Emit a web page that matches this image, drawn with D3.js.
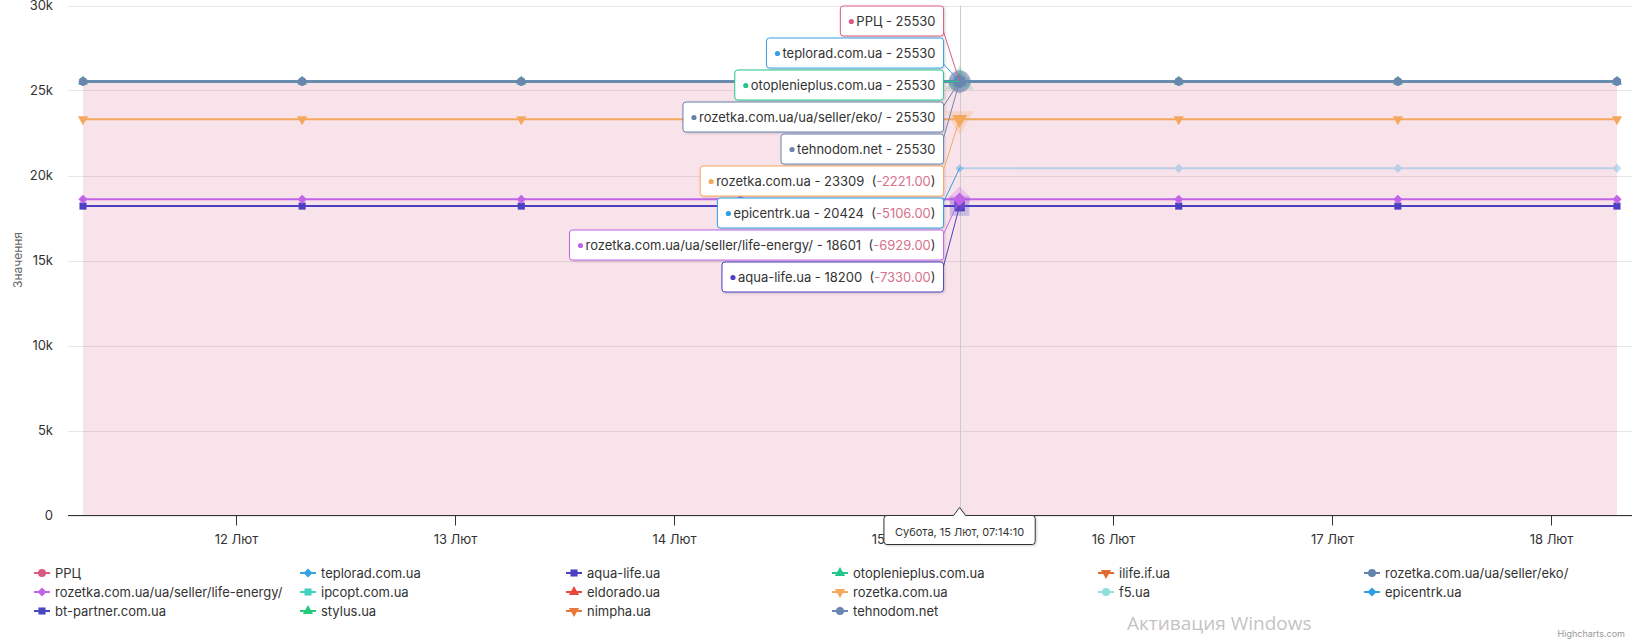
<!DOCTYPE html>
<html>
<head>
<meta charset="utf-8">
<script src="https://cdn.jsdelivr.net/npm/d3@7"></script>
<style>
    body { margin: 0; background: #fff; font-family: Inter, "Noto Sans", sans-serif; }
    svg { display: block; }
</style>
</head>
<body>
<svg id="chart" width="1634" height="642"></svg>
<script>
//Data
const dates = ["2025-02-11T07:14:10", "2025-02-12T07:14:10", "2025-02-13T07:14:10", "2025-02-14T07:14:10",
               "2025-02-15T07:14:10", "2025-02-16T07:14:10", "2025-02-17T07:14:10", "2025-02-18T07:14:10"];
const seriesNames = ["РРЦ", "teplorad.com.ua", "aqua-life.ua", "otoplenieplus.com.ua", "ilife.if.ua",
                     "rozetka.com.ua/ua/seller/eko/", "rozetka.com.ua/ua/seller/life-energy/", "ipcopt.com.ua",
                     "eldorado.ua", "rozetka.com.ua", "f5.ua", "epicentrk.ua", "bt-partner.com.ua",
                     "stylus.ua", "nimpha.ua", "tehnodom.net"];
const rrc           = [25530, 25530, 25530, 25530, 25530, 25530, 25530, 25530];
const teplorad      = [25530, 25530, 25530, 25530, 25530, 25530, 25530, 25530];
const aquaLife      = [18200, 18200, 18200, 18200, 18200, 18200, 18200, 18200];
const otoplenieplus = [25530, 25530, 25530, 25530, 25530, 25530, 25530, 25530];
const ilife         = [null, null, null, null, null, null, null, null];
const rozetkaEko    = [25530, 25530, 25530, 25530, 25530, 25530, 25530, 25530];
const lifeEnergy    = [18601, 18601, 18601, 18601, 18601, 18601, 18601, 18601];
const ipcopt        = [null, null, null, null, null, null, null, null];
const eldorado      = [null, null, null, null, null, null, null, null];
const rozetka       = [23309, 23309, 23309, 23309, 23309, 23309, 23309, 23309];
const f5            = [null, null, null, null, null, null, null, null];
const epicentrk     = [null, null, null, null, 20424, 20424, 20424, 20424];
const btPartner     = [null, null, null, null, null, null, null, null];
const stylus        = [null, null, null, null, null, null, null, null];
const nimpha        = [null, null, null, null, null, null, null, null];
const tehnodom      = [25530, 25530, 25530, 25530, 25530, 25530, 25530, 25530];

const yTicks = [0, 5000, 10000, 15000, 20000, 25000, 30000];
const yTickLabels = ["0", "5k", "10k", "15k", "20k", "25k", "30k"];
const xTickDates = ["2025-02-12", "2025-02-13", "2025-02-14", "2025-02-15", "2025-02-16", "2025-02-17", "2025-02-18"];
const xTickLabels = ["12 Лют", "13 Лют", "14 Лют", "15 Лют", "16 Лют", "17 Лют", "18 Лют"];
const hoverIndex = 4;
const hoverLabel = "Субота, 15 Лют, 07:14:10";

//Styles
const colors = ["#db5a80", "#3aa0e0", "#4b3fc2", "#24c78a", "#e06a30", "#6382ad", "#c264e8", "#3fd0c0",
                "#e84a3a", "#f4a85e", "#8fe0dc", "#2e9fe5", "#4a48c0", "#27c97a", "#e8783a", "#6a85b0"];
const symbols = ["circle", "diamond", "square", "triangle", "triangle-down"];

const seriesValues = [rrc, teplorad, aquaLife, otoplenieplus, ilife, rozetkaEko, lifeEnergy, ipcopt,
                      eldorado, rozetka, f5, epicentrk, btPartner, stylus, nimpha, tehnodom];
const series = seriesNames.map((name, i) => ({
    name: name,
    color: colors[i],
    symbol: symbols[i % 5],
    values: seriesValues[i].map((v, j) => ({ date: new Date(dates[j]), value: v }))
}));

//Measuring (px)
const plotLeft = 68, plotRight = 1632, plotTop = 5.5, plotBottom = 515.5;

const xScale = d3.scaleTime()
    .domain([new Date(dates[0]), new Date(dates[dates.length - 1])])
    .range([83, 1617]);
const yScale = d3.scaleLinear().domain([0, 30000]).range([plotBottom, plotTop]);

const svg = d3.select("#chart");

//Shadow for tooltips
const defs = svg.append("defs");
const shadow = defs.append("filter").attr("id", "shadow").attr("x", "-20%").attr("y", "-40%").attr("width", "140%").attr("height", "180%");
shadow.append("feDropShadow").attr("dx", 1).attr("dy", 1).attr("stdDeviation", 1.2).attr("flood-color", "#000").attr("flood-opacity", 0.18);

function symbolPath(type, size) {
    if (type === "circle") return d3.symbol().type(d3.symbolCircle).size(size)();
    if (type === "square") return d3.symbol().type(d3.symbolSquare).size(size)();
    if (type === "diamond") return d3.symbol().type(d3.symbolSquare).size(size * 0.85)();
    return d3.symbol().type(d3.symbolTriangle).size(size * 0.9)();
}
function symbolRotate(type) {
    if (type === "diamond") return 45;
    if (type === "triangle-down") return 180;
    return 0;
}

//Grid
svg.append("g").selectAll("line").data(yTicks).enter().append("line")
    .attr("x1", plotLeft).attr("x2", plotRight)
    .attr("y1", d => Math.round(yScale(d)) + 0.5).attr("y2", d => Math.round(yScale(d)) + 0.5)
    .attr("stroke", "#e6e6e6").attr("stroke-width", 1);

//Y labels
svg.append("g").selectAll("text").data(yTicks).enter().append("text")
    .attr("x", 53).attr("y", d => yScale(d) + 4.5)
    .attr("text-anchor", "end").attr("font-size", 13).attr("fill", "#333")
    .text((d, i) => yTickLabels[i]);

svg.append("text")
    .attr("transform", "translate(22,260) rotate(-90)")
    .attr("text-anchor", "middle").attr("font-size", 12).attr("fill", "#666")
    .text("Значення");

//РРЦ area
const area = d3.area()
    .defined(d => d.value !== null)
    .x(d => xScale(d.date)).y0(yScale(0)).y1(d => yScale(d.value));
svg.append("path").datum(series[0].values)
    .attr("d", area).attr("fill", series[0].color).attr("fill-opacity", 0.17);

//Lines
const line = d3.line()
    .defined(d => d.value !== null)
    .x(d => xScale(d.date)).y(d => yScale(d.value));
const faded = ["epicentrk.ua"];

series.forEach(s => {
    const op = faded.includes(s.name) ? 0.3 : 1;
    const g = svg.append("g").attr("opacity", op);
    g.append("path").datum(s.values)
        .attr("d", line).attr("fill", "none")
        .attr("stroke", s.color).attr("stroke-width", 2);
    g.selectAll("path.marker").data(s.values.filter((d, j) => d.value !== null && j !== hoverIndex))
        .enter().append("path").attr("class", "marker")
        .attr("d", symbolPath(s.symbol, 50))
        .attr("transform", d => `translate(${xScale(d.date)},${yScale(d.value)}) rotate(${symbolRotate(s.symbol)})`)
        .attr("fill", s.color);
});

//Crosshair
const hoverDate = new Date(dates[hoverIndex]);
const hx = xScale(hoverDate);
svg.append("line")
    .attr("x1", Math.round(hx) + 0.5).attr("x2", Math.round(hx) + 0.5)
    .attr("y1", plotTop).attr("y2", plotBottom)
    .attr("stroke", "#cccccc").attr("stroke-width", 1);

//Hover markers
series.forEach(s => {
    const d = s.values[hoverIndex];
    if (d.value === null) return;
    const big = !faded.includes(s.name);
    const g = svg.append("g").attr("transform", `translate(${hx},${yScale(d.value)})`);
    if (big) {
        g.append("path").attr("d", symbolPath(s.symbol, 380))
            .attr("transform", `rotate(${symbolRotate(s.symbol)})`)
            .attr("fill", s.color).attr("fill-opacity", 0.25);
    }
    g.append("path").attr("d", symbolPath(s.symbol, big ? 110 : 40))
        .attr("transform", `rotate(${symbolRotate(s.symbol)})`)
        .attr("fill", s.color).attr("opacity", big ? 1 : 0.4);
});

//X axis
svg.append("line")
    .attr("x1", plotLeft).attr("x2", plotRight)
    .attr("y1", plotBottom).attr("y2", plotBottom)
    .attr("stroke", "#333").attr("stroke-width", 1);
const xg = svg.append("g").selectAll("g").data(xTickDates).enter().append("g")
    .attr("transform", d => `translate(${Math.round(xScale(new Date(d + "T00:00:00"))) + 0.5},${plotBottom})`);
xg.append("line").attr("y1", 0).attr("y2", 10).attr("stroke", "#333");
xg.append("text").attr("y", 28).attr("text-anchor", "middle")
    .attr("font-size", 13).attr("fill", "#333")
    .text((d, i) => xTickLabels[i]);

//Split tooltip
const shown = series.filter(s => s.values[hoverIndex].value !== null)
    .sort((a, b) => b.values[hoverIndex].value - a.values[hoverIndex].value);
const ref = series[0].values[hoverIndex].value;
const boxRight = hx - 16;
const tip = svg.append("g");
shown.forEach((s, i) => {
    const v = s.values[hoverIndex].value;
    const top = 6 + i * 32;
    const bottom = top + 30;
    const py = yScale(v);
    const g = tip.append("g");
    const rect = g.append("rect");
    const conn = g.append("line");
    const txt = g.append("text").attr("y", top + 19.5).attr("font-size", 13).attr("fill", "#333")
        .attr("text-anchor", "end").attr("x", boxRight - 8);
    txt.append("tspan").text(`${s.name} - ${v}`);
    if (v !== ref) {
        txt.append("tspan").attr("xml:space", "preserve").text("  (");
        txt.append("tspan").attr("fill", "#d9708a").text((v - ref).toFixed(2));
        txt.append("tspan").text(")");
    }
    const w = txt.node().getComputedTextLength() + 24;
    rect.attr("x", boxRight - w).attr("y", top).attr("width", w).attr("height", 30)
        .attr("rx", 3).attr("fill", "#fff").attr("stroke", s.color).attr("stroke-width", 1)
        .attr("filter", "url(#shadow)");
    g.append("circle").attr("cx", boxRight - w + 11).attr("cy", top + 15.5).attr("r", 2.6).attr("fill", s.color);
    const cy = Math.max(top + 4, Math.min(bottom - 4, py));
    conn.attr("x1", boxRight).attr("y1", cy).attr("x2", hx).attr("y2", py)
        .attr("stroke", s.color).attr("stroke-width", 1);
});

//Date tooltip
const dg = svg.append("g").attr("transform", `translate(${hx},${plotBottom})`);
const dtext = dg.append("text").attr("y", 20).attr("text-anchor", "middle")
    .attr("font-size", 11).attr("fill", "#333").text(hoverLabel);
const dw = dtext.node().getComputedTextLength() + 22;
dg.insert("path", "text")
    .attr("d", `M${-dw / 2 + 3},0 L-6,0 L0,-8 L6,0 L${dw / 2 - 3},0 Q${dw / 2},0 ${dw / 2},3 L${dw / 2},26 Q${dw / 2},29 ${dw / 2 - 3},29 L${-dw / 2 + 3},29 Q${-dw / 2},29 ${-dw / 2},26 L${-dw / 2},3 Q${-dw / 2},0 ${-dw / 2 + 3},0 Z`)
    .attr("fill", "#fff").attr("stroke", "#333").attr("stroke-width", 1).attr("filter", "url(#shadow)");

//Legend
const legend = svg.append("g");
series.forEach((s, i) => {
    const col = i % 6, row = Math.floor(i / 6);
    const g = legend.append("g").attr("transform", `translate(${34 + col * 266},${573 + row * 19})`);
    g.append("line").attr("x1", 0).attr("x2", 16).attr("stroke", s.color).attr("stroke-width", 2);
    g.append("path").attr("d", symbolPath(s.symbol, 50))
        .attr("transform", `translate(8,0) rotate(${symbolRotate(s.symbol)})`).attr("fill", s.color);
    g.append("text").attr("x", 21).attr("y", 4.5).attr("font-size", 13).attr("fill", "#333").text(s.name);
});

//Credits and watermark
svg.append("text").attr("x", 1625).attr("y", 637).attr("text-anchor", "end")
    .attr("font-size", 9).attr("fill", "#999").text("Highcharts.com");
svg.append("text").attr("x", 1127).attr("y", 630)
    .attr("font-size", 19).attr("fill", "#c4c4c4").attr("font-family", "'Segoe UI', 'Open Sans', sans-serif")
    .text("Активация Windows");
</script>
</body>
</html>
